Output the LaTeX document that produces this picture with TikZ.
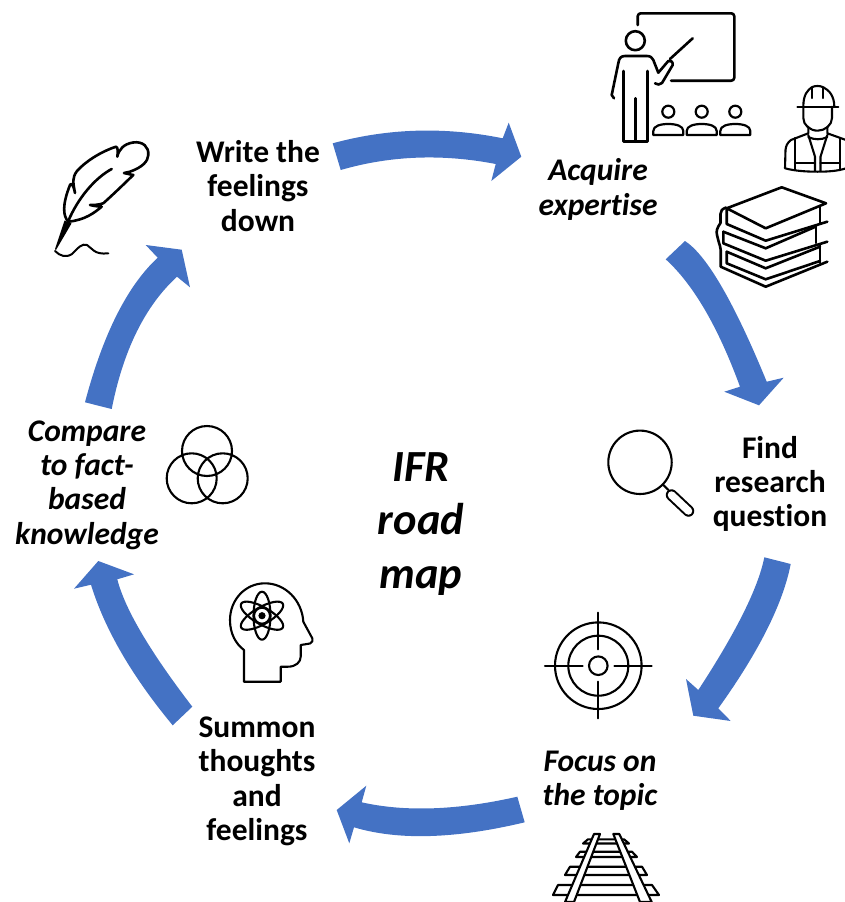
\documentclass[tikz,border=0pt]{standalone}
\usepackage{fontspec}
\setmainfont[RawFeature={-liga;-clig}]{Carlito}
\definecolor{flow}{HTML}{4472C4}
\tikzset{
  x=1pt,y=-1pt,
  label/.style={align=center,font=\fontsize{31.5}{34.4}\selectfont\bfseries,inner sep=0pt},
  ilabel/.style={label,font=\fontsize{31.5}{34.4}\selectfont\bfseries\itshape},
  title/.style={align=center,font=\fontsize{44.5}{53.5}\selectfont\bfseries\itshape,inner sep=0pt},
  flowarrow/.style={fill=flow,draw=none},
  icon/.style={draw=black,line width=2.6pt,line join=round,line cap=round},
  thin icon/.style={icon,line width=2.1pt}
}
\newcommand{\pupil}[1]{%
  \draw[icon,line width=2.2pt] (#1,111.7) circle (6);
  \draw[icon,line width=2.2pt] (#1-15,135) -- (#1+15,135) -- (#1+15,131) .. controls (#1+15,126) and (#1+8,124) .. (#1,124) .. controls (#1-8,124) and (#1-15,126) .. (#1-15,131) -- cycle;
}
\newcommand{\sleeper}[6]{\draw[thin icon,fill=white] (#1,#2) -- (#3,#2) -- (#6,#5) -- (#4,#5) -- cycle;}
\begin{document}
\begin{tikzpicture}
\useasboundingbox (0,0) rectangle (845,902);
% block arrows
\fill[flowarrow] (332.7,143.3) .. controls (388,128.2) and (444.7,126.5) .. (502.7,138.3) -- (508.7,122.7) -- (521.3,156.7) -- (491.3,181) -- (495.7,164) .. controls (442,153.6) and (390.4,155.6) .. (340.7,170) -- cycle;
\fill[flowarrow] (685,241) .. controls (706.7,255.1) and (734,302) .. (766.7,381.7) -- (783.7,377.7) -- (759,405.3) -- (724.3,391.7) -- (740,386.7) .. controls (718.1,326.9) and (693.3,284.4) .. (665.7,259.3) -- cycle;
\fill[flowarrow] (790.7,564) .. controls (782.9,603.9) and (758.7,652) .. (718.3,708.3) -- (730.7,721) -- (693.3,715.7) -- (686,679) -- (698.3,690) .. controls (736.3,631.9) and (758.3,587.7) .. (764.3,557.3) -- cycle;
\fill[flowarrow] (517.3,796.7) .. controls (457.1,810.3) and (405.3,812.1) .. (361.7,802.3) -- (366.3,785.7) -- (336.7,810) -- (349.3,843.3) -- (354,827.3) .. controls (398.4,840.6) and (455.3,838.9) .. (524.7,822.3) -- cycle;
\fill[flowarrow] (172.7,725.3) .. controls (132,676.2) and (104.7,629.3) .. (91,584.7) -- (74,588.7) -- (98.3,561) -- (134,574.3) -- (117.3,579.3) .. controls (124.8,608.8) and (149.8,651.3) .. (192.3,706.7) -- cycle;
\fill[flowarrow] (85,402.3) .. controls (103,334.1) and (127.3,285.9) .. (157.7,257.7) -- (145.7,245) -- (181.7,249.7) -- (190,287.3) -- (177,276.7) .. controls (145.1,306) and (123.3,350.1) .. (111.7,409) -- cycle;
% labels
\node[label] (write) at (258,186) {Write the\\feelings\\down};
\node[ilabel] (acquire) at (598,189.5) {Acquire\\expertise};
\node[label] (find) at (770,484) {Find\\research\\question};
\node[ilabel] (focus) at (600,781) {Focus on\\the topic};
\node[label] (summon) at (257,781.5) {Summon\\thoughts\\and\\feelings};
\node[ilabel] (compare) at (87,485) {Compare\\to fact-\\based\\knowledge};
\node[title] (ifr) at (421,524) {IFR\\road\\map};
% teacher and board
\draw[icon,rounded corners=3pt] (637.7,25) -- (637.7,13.3) -- (734.3,13.3) -- (734.3,80.7) -- (671,80.7);
\draw[icon] (635.3,40.7) circle (9.5);
\draw[icon] (614,98.3) -- (611.7,95) -- (618.3,63.3) .. controls (619,58) and (621,56) .. (625,56) -- (647,56) .. controls (651,56) and (652,58) .. (653.3,60) -- (658.3,72.7) -- (668.3,61) .. controls (671,60) and (673,62) .. (672.7,65) -- (662,83) .. controls (660,85) and (657,85) .. (655,83.3);
\draw[icon] (670,59) -- (692.7,38.3);
\draw[icon] (623.3,71) -- (623.3,141.7) -- (647.3,141.7) -- (647.3,71);
\draw[icon] (635.3,98.3) -- (635.3,141.7);
\pupil{668.3}\pupil{701.7}\pupil{735.3}
% worker
\draw[thin icon] (803.3,106.7) .. controls (803.3,94) and (808,90) .. (811.7,87.3) .. controls (815,85.5) and (820,85.5) .. (823.3,87.3) .. controls (829,90) and (834.3,96) .. (834.3,106.7);
\draw[thin icon] (797.3,106.7) -- (838.3,106.7);
\draw[thin icon] (811.7,87.3) -- (811.7,98) (823.3,87.3) -- (823.3,98);
\draw[thin icon] (803.3,106.7) -- (803.3,118) .. controls (803.3,125) and (810,130.7) .. (817.7,130.7) .. controls (825,130.7) and (832,125) .. (832,118) -- (832,106.7);
\draw[thin icon] (808.3,126.7) -- (808.3,133.3) -- (791,140) .. controls (787,143) and (786,146) .. (785.5,150) -- (785,168.3) .. controls (795,171) and (807,171.7) .. (817.7,171.7) .. controls (828,171.7) and (838,171) .. (846,168.3);
\draw[thin icon] (827.3,126.7) -- (827.3,133.3) -- (846,140);
\draw[thin icon] (795,138) -- (795,170) (840,138) -- (840,170);
\draw[thin icon] (808.3,135) -- (815,156.7) -- (815,171) (827.3,135) -- (820.5,156.7) -- (820.5,171);
\draw[thin icon] (795,162.7) -- (815,162.7) (820.5,162.7) -- (840,162.7);
\draw[thin icon] (808.3,137) .. controls (814,140) and (822,140) .. (827.3,137);
% books
\draw[icon] (726.7,208.3) -- (781.7,187.3) -- (826,203.3) -- (765.7,228.3) -- cycle;
\draw[icon] (726.7,208.3) -- (726.7,224) -- (765.7,240.7) -- (827.3,221.7);
\draw[icon] (820,206.7) -- (820,223.5);
\draw[icon] (726,207.5) .. controls (722,209) and (720.5,211) .. (720.5,214) -- (720.5,223) .. controls (717,228) and (716,231) .. (717,235) -- (718.5,241) .. controls (719.5,245) and (720.7,247) .. (720.7,250) -- (720.7,266.7) -- (765.7,286.7) -- (827.3,261.7);
\draw[icon] (723.3,231.7) -- (765.7,248.3) -- (816,226.5);
\draw[icon] (723.3,231.7) -- (723.3,243.3) -- (765.7,260.7) -- (827.3,241.7);
\draw[icon] (816,226.5) -- (816,243);
\draw[icon] (726.7,251.7) -- (765.7,268.3) -- (820,246.7);
\draw[icon] (726.7,251.7) -- (726.7,263.3) -- (765.7,279.3) -- (820,261);
\draw[icon] (820,244) -- (820,263);
% magnifier
\draw[thin icon] (640,462.3) circle (31.7);
\draw[thin icon] (663.3,485) -- (668.3,490);
\draw[line width=11.5pt,line cap=round,black] (671.5,495) -- (688.5,511);
\draw[line width=7.5pt,line cap=round,white] (671.5,495) -- (688.5,511);
% target
\draw[thin icon] (598.3,665.7) circle (9.3) circle (30) circle (43.3);
\draw[thin icon] (598.3,612.7) -- (598.3,649.3) (598.3,681.7) -- (598.3,718.3) (545,665.7) -- (582.7,665.7) (614.3,665.7) -- (651.7,665.7);
% railway
\sleeper{588}{839.3}{624}{583}{843.5}{629}
\sleeper{580}{851.7}{632}{576}{857}{637}
\sleeper{570}{866.7}{642}{565}{875}{647}
\sleeper{558}{885}{652}{553}{895}{659}
\draw[thin icon,line cap=butt,fill=white] (594,834) -- (600,834) -- (574,902) -- (565,902) -- cycle;
\draw[thin icon,line cap=butt,fill=white] (613.3,834) -- (619.3,834) -- (651.7,902) -- (640,902) -- cycle;
% venn
\draw[thin icon] (207,451) circle (25) (191.7,478.3) circle (25) (222.7,478.3) circle (25);
% head with atom
\draw[thin icon] (244,681.7) -- (280.7,681.7) -- (280.7,666.7) -- (288,666.7) .. controls (296,666.7) and (300.7,662) .. (300.7,656.7) -- (300.7,645) -- (310,643.5) .. controls (312.5,642.5) and (313,640) .. (312.3,638.3) -- (303.3,621.7) .. controls (302,600) and (285,583.3) .. (265,583.3) .. controls (245,583.3) and (230,600) .. (230,620) .. controls (230,634) and (236,644) .. (244,650) -- cycle;
\draw[thin icon] (262,615.7) circle (8);
\fill (262,615.7) circle (3.6);
\draw[thin icon,rotate around={90:(262,615.7)}] (262,615.7) ellipse [x radius=24,y radius=8.5];
\draw[thin icon,rotate around={30:(262,615.7)}] (262,615.7) ellipse [x radius=24,y radius=8.5];
\draw[thin icon,rotate around={-30:(262,615.7)}] (262,615.7) ellipse [x radius=24,y radius=8.5];
% feather
\draw[icon] (68.3,221.7) .. controls (63,216) and (62,205) .. (70,185) .. controls (71,183) and (73,183) .. (75,193) .. controls (73,182) and (72,178) .. (77,171) .. controls (85,162) and (100,152) .. (116,146.7) .. controls (118,147) and (118,152) .. (117.3,156.7) .. controls (119,149) and (124,144) .. (133,142.5) .. controls (143,141) and (149,147) .. (148.3,155) .. controls (148,161) and (143,167) .. (130,171.7) -- (124,173) .. controls (128,174) and (131,174.5) .. (133.3,175) .. controls (128,180) and (118,190) .. (103.3,203.3) .. controls (98,205) and (94,205) .. (90,205) .. controls (94,206) and (98,206.5) .. (101.7,206.7) .. controls (94,213) and (85,220) .. cycle;
\draw[icon] (111.7,169) .. controls (95,178) and (78,198) .. (68.3,221);
\fill (64.5,220.5) -- (71.5,223.5) -- (56,250) -- (55,249) -- cycle;
\draw[icon,line width=2pt] (55,251) .. controls (60,256) and (66,258) .. (72,254) .. controls (78,248) and (82,243) .. (87,245) .. controls (92,248) and (94,255) .. (108.3,253.3);
\end{tikzpicture}
\end{document}
